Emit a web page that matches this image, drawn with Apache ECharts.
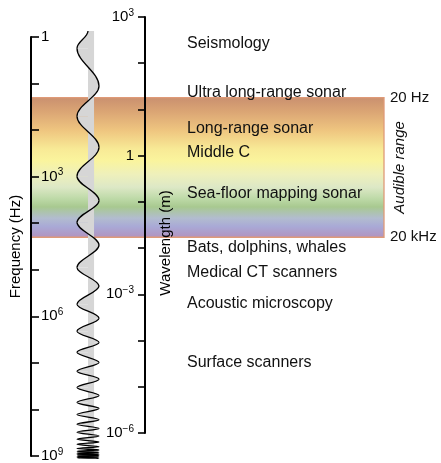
<!DOCTYPE html>
<html>
<head>
<meta charset="utf-8">
<script src="https://cdn.jsdelivr.net/npm/echarts@6/dist/echarts.min.js"></script>
<style>
  html, body { margin: 0; padding: 0; background: #fff; }
  #chart { width: 441px; height: 463px; }
</style>
</head>
<body>
<div id="chart"></div>
<script>
// applications and the frequency (Hz) each label sits at
const appNames = [
  "Seismology", "Ultra long-range sonar", "Long-range sonar", "Middle C",
  "Sea-floor mapping sonar", "Bats, dolphins, whales", "Medical CT scanners",
  "Acoustic microscopy", "Surface scanners"
];
const appFreqs = [1.4, 16, 95, 300, 2300, 33000, 113000, 520000, 1e7];

// audible range edges (Hz)
const audible = [20, 20000];
const audibleNames = ["20 Hz", "20 kHz"];

// turning points of the drawn wave, in decades of frequency (log10 Hz)
const waveTurns = [
  -0.13, 0.24, 1.05, 1.70, 2.37, 2.99, 3.51, 3.98, 4.47, 4.95, 5.35, 5.74,
  6.04, 6.32, 6.56, 6.77, 6.99, 7.18, 7.35, 7.53, 7.70, 7.85, 7.98, 8.11,
  8.22, 8.32, 8.41, 8.49, 8.57, 8.64, 8.70, 8.75, 8.80, 8.84, 8.87, 8.90,
  8.92, 8.94, 8.96, 8.975, 8.99, 9.005, 9.02, 9.035, 9.05
];

// decades that get a tick label
const freqLabelExp = [0, 3, 6, 9];
const waveLabelExp = [3, 0, -3, -6];

const FONT = "'Liberation Sans', Arial, Helvetica, sans-serif";
const LABEL_X = 0.442;
const STRIPE = 0.55;

// first point starts on the centre line, then alternate left / right
const wavePoints = waveTurns.map((d, i) => [i === 0 ? 0 : (i % 2 ? -1 : 1), d]);

function powLabel(v, list) {
  const e = Math.round(Math.log10(v));
  if (list.indexOf(e) < 0) return "";
  if (e === 0) return "1";
  return "10{sup|" + String(e).replace("-", "\u2212") + "}";
}

const labelRich = {
  sup: { fontSize: 10, fontFamily: FONT, color: "#000", padding: [0, 0, 8, 0] }
};

const band = new echarts.graphic.LinearGradient(0, 0, 0, 1, [
  { offset: 0, color: "#c98f6f" },
  { offset: 0.1, color: "#daa474" },
  { offset: 0.24, color: "#efc680" },
  { offset: 0.37, color: "#f8ea96" },
  { offset: 0.45, color: "#faf49d" },
  { offset: 0.55, color: "#eef0bb" },
  { offset: 0.64, color: "#dde8c6" },
  { offset: 0.72, color: "#bedaa8" },
  { offset: 0.78, color: "#a8c990" },
  { offset: 0.86, color: "#b2bccf" },
  { offset: 0.92, color: "#a9a9d6" },
  { offset: 1, color: "#b292be" }
]);

const textLabel = { color: "#111", fontFamily: FONT, opacity: 1 };

const chart = echarts.init(document.getElementById("chart"));

chart.setOption({
  animation: false,
  backgroundColor: "#fff",
  grid: [
    { left: 31, top: 37, width: 353, height: 419, outerBoundsMode: "none" },
    { left: 145, top: 17, width: 10, height: 416, outerBoundsMode: "none" },
    { left: 77, top: 37, width: 22, height: 419, outerBoundsMode: "none" }
  ],
  xAxis: [
    { gridIndex: 0, type: "value", min: 0, max: 1, show: false },
    { gridIndex: 1, type: "value", min: 0, max: 1, show: false },
    { gridIndex: 2, type: "value", min: -1, max: 1, show: false }
  ],
  yAxis: [
    {
      gridIndex: 0, type: "log", logBase: 10, min: 1, max: 1e9, inverse: true,
      splitNumber: 9, z: 5,
      axisLine: { lineStyle: { color: "#000", width: 2 } },
      axisTick: { inside: true, length: 8, lineStyle: { color: "#000", width: 1.6 } },
      axisLabel: {
        inside: true, margin: 10, color: "#000", fontSize: 15, fontFamily: FONT,
        formatter: (v) => powLabel(v, freqLabelExp), rich: labelRich
      },
      splitLine: { show: false },
      minorTick: { show: false },
      name: "Frequency (Hz)", nameLocation: "middle", nameRotate: 90, nameGap: 6,
      nameTextStyle: { color: "#000", fontSize: 15, fontFamily: FONT }
    },
    {
      gridIndex: 1, type: "log", logBase: 10, min: 1e-6, max: 1e3,
      splitNumber: 9, z: 5,
      axisLine: { lineStyle: { color: "#000", width: 2 } },
      axisTick: { length: 7, lineStyle: { color: "#000", width: 1.6 } },
      axisLabel: {
        margin: 11, color: "#000", fontSize: 15, fontFamily: FONT,
        formatter: (v) => powLabel(v, waveLabelExp), rich: labelRich
      },
      splitLine: { show: false },
      minorTick: { show: false }
    },
    { gridIndex: 2, type: "value", min: 0, max: 9, inverse: true, show: false }
  ],
  graphic: [
    {
      type: "text", x: 166, y: 243, rotation: Math.PI / 2, z: 20,
      style: {
        text: "Wavelength (m)", font: "15px " + FONT, fill: "#000",
        align: "center", verticalAlign: "middle",
        textAlign: "center", textVerticalAlign: "middle"
      }
    }
  ],
  series: [
    {
      type: "scatter", xAxisIndex: 0, yAxisIndex: 0, symbolSize: 0, silent: true,
      clip: false, z: 3, itemStyle: { opacity: 1 },
      data: appFreqs.map((f, i) => ({ value: [LABEL_X, f], name: appNames[i] })),
      label: Object.assign({
        show: true, position: "right", distance: 0, formatter: "{b}", fontSize: 16
      }, textLabel),
      markArea: {
        silent: true,
        itemStyle: { color: band, borderColor: "#df9a78", borderWidth: 1.3, opacity: 1 },
        data: [[{ xAxis: -0.005, yAxis: audible[0] }, { xAxis: 1, yAxis: audible[1] }]]
      }
    },
    {
      type: "scatter", xAxisIndex: 0, yAxisIndex: 0, symbolSize: 0, silent: true,
      clip: false, z: 3, itemStyle: { opacity: 1 },
      data: audible.map((f, i) => ({ value: [1, f], name: audibleNames[i] })),
      label: Object.assign({
        show: true, position: "right", distance: 6, formatter: "{b}", fontSize: 15
      }, textLabel)
    },
    {
      type: "scatter", xAxisIndex: 0, yAxisIndex: 0, symbolSize: 0, silent: true,
      clip: false, z: 3, itemStyle: { opacity: 1 },
      data: [{ value: [1.045, Math.sqrt(audible[0] * audible[1])], name: "Audible range" }],
      label: Object.assign({
        show: true, position: "inside", rotate: 90, formatter: "{b}",
        fontSize: 15, fontStyle: "italic"
      }, textLabel)
    },
    {
      type: "custom", xAxisIndex: 2, yAxisIndex: 2, silent: true, z: 4,
      data: wavePoints,
      renderItem: function (params, api) {
        const i = params.dataIndex;
        if (i === 0) return null;
        const p0 = api.coord(wavePoints[i - 1]);
        const p1 = api.coord(wavePoints[i]);
        const cx = api.coord([0, 0])[0];
        const k = (p1[1] - p0[1]) * 0.364;
        const curve = "C" + p0[0] + "," + (p0[1] + k) + " " + p1[0] + "," + (p1[1] - k) +
          " " + p1[0] + "," + p1[1];
        const children = [
          {
            type: "path",
            shape: { pathData: "M" + cx + "," + p0[1] + " L" + p0[0] + "," + p0[1] + " " + curve + " L" + cx + "," + p1[1] + " Z" },
            style: { fill: "#d6d6d6" }, z2: 1
          },
          {
            type: "path",
            shape: { pathData: "M" + p0[0] + "," + p0[1] + " " + curve },
            style: { fill: null, stroke: "#000", lineWidth: 1.3 }, z2: 10
          }
        ];
        if (i === 1) {
          const top = api.coord(wavePoints[0]);
          const bottom = api.coord(wavePoints[wavePoints.length - 1]);
          const sx = api.coord([STRIPE, 0])[0];
          children.push({
            type: "rect",
            shape: { x: cx, y: top[1], width: sx - cx, height: bottom[1] - top[1] },
            style: { fill: "#d6d6d6" }, z2: 0
          });
        }
        return { type: "group", children: children };
      }
    }
  ]
});

window.addEventListener("resize", () => chart.resize());
</script>
</body>
</html>
